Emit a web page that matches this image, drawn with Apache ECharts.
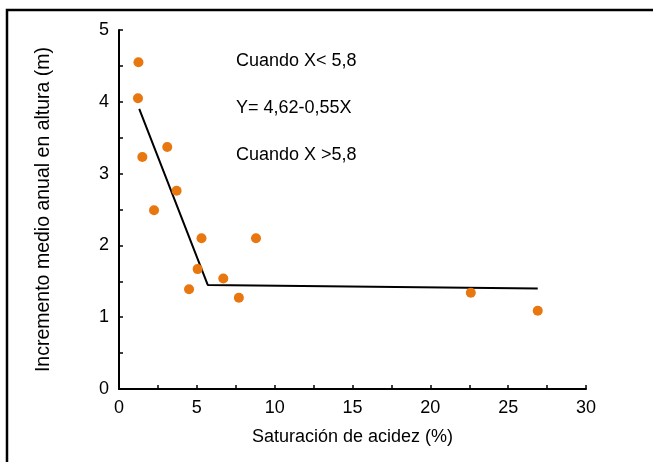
<!DOCTYPE html>
<html>
<head>
<meta charset="utf-8">
<script src="https://cdn.jsdelivr.net/npm/echarts@6/dist/echarts.min.js"></script>
<style>
  html, body { margin: 0; padding: 0; background: #fff; }
  #chart { width: 653px; height: 462px; }
</style>
</head>
<body>
<div id="chart"></div>
<script>
// puntos medidos: saturación de acidez (%) e incremento medio anual (m)
const acidez = [1.25, 1.22, 1.5, 3.1, 3.7, 2.25, 5.3, 8.8, 5.05, 4.5, 6.7, 7.7, 22.6, 26.9]
const incremento = [4.55, 4.05, 3.23, 3.37, 2.76, 2.49, 2.1, 2.1, 1.67, 1.39, 1.54, 1.27, 1.34, 1.09]
// recta segmentada
const rectaX = [1.3, 5.7, 26.9]
const rectaY = [3.9, 1.45, 1.4]
const notas = ['Cuando X< 5,8', 'Y= 4,62-0,55X', 'Cuando X >5,8']

const puntos = acidez.map((x, i) => [x, incremento[i]])
const recta = rectaX.map((x, i) => [x, rectaY[i]])

const txtFont = "'Liberation Sans', Arial, sans-serif"

let chart = echarts.init(document.getElementById('chart'))
chart.setOption({
  animation: false,
  grid: { left: 119, top: 30, right: 67, bottom: 73 },
  graphic: [
    {
      type: 'rect',
      shape: { x: 7, y: 10, width: 700, height: 500 },
      style: { fill: 'none', stroke: '#000', lineWidth: 2.5 }
    }
  ].concat(notas.map((t, i) => ({
    type: 'text',
    left: 236,
    top: 52 + i * 47,
    style: { text: t, fill: '#000', font: '18px ' + txtFont }
  }))),
  xAxis: {
    type: 'value',
    min: 0,
    max: 30,
    interval: 2.5,
    name: 'Saturación de acidez (%)',
    nameLocation: 'middle',
    nameGap: 39,
    nameTextStyle: { color: '#000', fontSize: 18, fontFamily: txtFont },
    splitLine: { show: false },
    axisLine: { lineStyle: { color: '#000', width: 2 } },
    axisTick: { inside: true, length: 4, lineStyle: { color: '#000', width: 1.5 } },
    axisLabel: {
      color: '#000', fontSize: 18, fontFamily: txtFont, margin: 10,
      formatter: v => (v % 5 === 0 ? String(v) : '')
    }
  },
  yAxis: {
    type: 'value',
    min: 0,
    max: 5,
    interval: 0.5,
    name: 'Incremento medio anual en altura (m)',
    nameLocation: 'middle',
    nameGap: 65,
    nameTextStyle: { color: '#000', fontSize: 19.5, fontFamily: txtFont },
    splitLine: { show: false },
    axisLine: { show: true, lineStyle: { color: '#000', width: 2 } },
    axisTick: { show: true, inside: true, length: 4, lineStyle: { color: '#000', width: 1.5 } },
    axisLabel: {
      color: '#000', fontSize: 18, fontFamily: txtFont, margin: 10,
      formatter: v => (v % 1 === 0 ? String(v) : '')
    }
  },
  series: [
    {
      type: 'line',
      data: recta,
      symbol: 'none',
      lineStyle: { color: '#000', width: 2 },
      z: 2
    },
    {
      type: 'scatter',
      data: puntos,
      symbolSize: 10,
      itemStyle: { color: '#E8770F', opacity: 1 },
      z: 3
    }
  ]
})
</script>
</body>
</html>
